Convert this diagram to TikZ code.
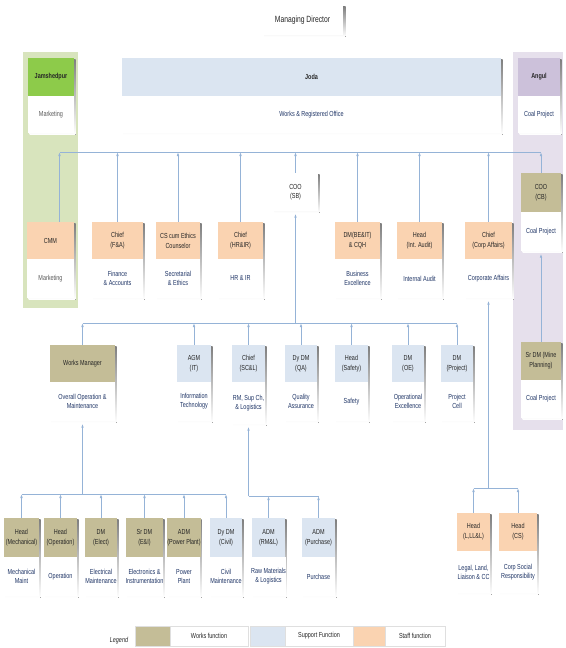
\documentclass[tikz,border=0pt]{standalone}
\usepackage{fontspec}
\setmainfont{Liberation Sans}[FakeStretch=0.75]
\usetikzlibrary{arrows.meta}
\definecolor{works}{HTML}{C4BD97}
\definecolor{support}{HTML}{DBE5F1}
\definecolor{staff}{HTML}{FAD3B1}
\definecolor{jgreen}{HTML}{8DCB4A}
\definecolor{jpanel}{HTML}{D8E4BD}
\definecolor{apanel}{HTML}{E6E0EC}
\definecolor{ahead}{HTML}{CCC1DA}
\definecolor{lnc}{HTML}{95B3D7}
\definecolor{bodytxt}{HTML}{1F3566}
\definecolor{hdrtxt}{HTML}{262626}
\definecolor{greytxt}{HTML}{595959}
\definecolor{shade}{HTML}{CFCFCF}
\tikzset{
  hdr/.style={inner sep=0pt, align=center, font=\fontsize{7.3}{10}\selectfont, text=hdrtxt},
  bdy/.style={fill=white, inner sep=0pt, align=center, font=\fontsize{7.3}{9}\selectfont, text=bodytxt},
  ln/.style={draw=lnc, line width=0.8pt},
  arr/.style={ln, -{Latex[length=4pt,width=2.6pt]}},
  uparr/.style={arr, shorten >=2.5pt},
  legbox/.style={draw=gray!25, inner sep=0pt, minimum height=20pt, font=\fontsize{7.3}{8}\selectfont, text=hdrtxt},
}
% name, x1, x2, y1, ymid, y2, colour, header, body
\newcommand\orgbox[9]{%
  \fill[shade] ({#2+1.5},{#4+1.5}) rectangle ({#3+1.5},{#6+1.5});
  \node[hdr, fill=#7, minimum width={(#3-#2)*1pt}, minimum height={(#5-#4)*1pt}] (#1) at ({(#2+#3)/2},{(#4+#5)/2}) {#8};
  \node[bdy, minimum width={(#3-#2)*1pt}, minimum height={(#6-#5)*1pt}] (#1b) at ({(#2+#3)/2},{(#5+#6)/2}) {#9};
}
\begin{document}
\begin{tikzpicture}[x=1pt,y=-1pt]
\useasboundingbox (0,0) rectangle (565,648);
\fill[white] (0,0) rectangle (565,648);
% side panels
\fill[jpanel] (23,52) rectangle (78,308);
\fill[apanel] (513,52) rectangle (563,430);
% managing director
\fill[shade] (264,6.5) rectangle (345.5,36.5);
\node[bdy, text=hdrtxt, font=\fontsize{9}{10}\selectfont, minimum width=81pt, minimum height=30pt] (md) at (302.5,20) {Managing Director};
% locations
\orgbox{jam}{28}{74}{58}{96}{133}{jgreen}{\bfseries Jamshedpur}{\color{greytxt}Marketing}
\orgbox{joda}{122}{501}{58}{96}{133}{support}{\bfseries Joda}{Works \& Registered Office}
\orgbox{ang}{518}{560}{58}{96}{133}{ahead}{\bfseries Angul}{Coal Project}
% first level
\orgbox{cmm}{27}{74}{222}{259}{298}{staff}{CMM}{\color{greytxt}Marketing}
\orgbox{fa}{92}{143}{222}{259}{298}{staff}{Chief\\(F\&A)}{Finance\\\& Accounts}
\orgbox{cs}{156}{200}{222}{259}{298}{staff}{CS cum Ethics\\Counselor}{Secretarial\\\& Ethics}
\orgbox{hr}{218}{263}{222}{259}{298}{staff}{Chief\\(HR\&IR)}{HR \& IR}
\orgbox{be}{335}{380}{222}{259}{298}{staff}{DM(BE\&IT)\\\& CQH}{Business\\Excellence}
\orgbox{ia}{397}{442}{222}{259}{298}{staff}{Head\\(Int. Audit)}{Internal Audit}
\orgbox{ca}{465}{512}{222}{259}{298}{staff}{Chief\\(Corp Affairs)}{Corporate Affairs}
\fill[shade] (274.5,174.5) rectangle (319.5,212.5);
\node[bdy, text=hdrtxt, minimum width=45pt, minimum height=38pt] (coo) at (295.5,192) {COO\\(SB)};
\orgbox{coocb}{521}{561}{173}{212}{251}{works}{COO\\(CB)}{Coal Project}
\orgbox{srdm}{521}{561}{342}{380}{418}{works}{Sr DM (Mine\\Planning)}{Coal Project}
% second level
\orgbox{wm}{50}{115}{345}{382}{421}{works}{Works Manager}{Overall Operation \&\\Maintenance}
\orgbox{agm}{177}{211}{345}{382}{421}{support}{AGM\\(IT)}{Information\\Technology}
\orgbox{scl}{232}{265}{345}{382}{424}{support}{Chief\\(SC\&L)}{RM, Sup Ch,\\\& Logistics}
\orgbox{qa}{285}{317}{345}{382}{421}{support}{Dy DM\\(QA)}{Quality\\Assurance}
\orgbox{saf}{335}{368}{345}{382}{421}{support}{Head\\(Safety)}{Safety}
\orgbox{oe}{392}{424}{345}{382}{421}{support}{DM\\(OE)}{Operational\\Excellence}
\orgbox{prj}{441}{473}{345}{382}{421}{support}{DM\\(Project)}{Project\\Cell}
% third level
\orgbox{mech}{4}{39}{518}{557}{596}{works}{Head\\(Mechanical)}{Mechanical\\Maint}
\orgbox{oper}{44}{77}{518}{557}{596}{works}{Head\\(Operation)}{Operation}
\orgbox{elec}{85}{117}{518}{557}{596}{works}{DM\\(Elect)}{Electrical\\Maintenance}
\orgbox{ei}{126}{163}{518}{557}{596}{works}{Sr DM\\(E\&I)}{Electronics \&\\Instrumentation}
\orgbox{pp}{168}{200}{518}{557}{596}{works}{ADM\\(Power Plant)}{Power\\Plant}
\orgbox{civ}{210}{242}{518}{557}{596}{support}{Dy DM\\(Civil)}{Civil\\Maintenance}
\orgbox{rml}{252}{285}{518}{557}{596}{support}{ADM\\(RM\&L)}{Raw Materials\\\& Logistics}
\orgbox{pur}{302}{335}{518}{557}{596}{support}{ADM\\(Purchase)}{Purchase}
\orgbox{lll}{457}{490}{513}{551}{593}{staff}{Head\\(L,LL\&L)}{Legal, Land,\\Liaison \& CC}
\orgbox{csr}{499}{537}{513}{551}{593}{staff}{Head\\(CS)}{Corp Social\\Responsibility}
% bus 1
\coordinate (b1) at (0,152);
\coordinate (cmmtop) at ([xshift=9pt]cmm.north);
\draw[ln] (cmmtop |- b1) -- (coocb.north |- b1);
\draw[arr] (cmmtop) -- (cmmtop |- b1);
\foreach \n in {fa,cs,hr,coo,be,ia,ca,coocb} \draw[arr] (\n.north) -- (\n.north |- b1);
% bus 2
\coordinate (b2) at (0,323);
\draw[ln] (wm.north |- b2) -- (prj.north |- b2);
\draw[uparr] (coo.south |- b2) -- (coo.south);
\foreach \n in {wm,agm,scl,qa,saf,oe,prj} \draw[arr] (\n.north) -- (\n.north |- b2);
% bus 3
\coordinate (b3) at (0,494);
\draw[ln] (mech.north |- b3) -- (civ.north |- b3);
\draw[uparr] (wmb.south |- b3) -- (wmb.south);
\foreach \n in {mech,oper,elec,ei,pp,civ} \draw[arr] (\n.north) -- (\n.north |- b3);
% bus 4
\coordinate (b4) at (0,496);
\draw[ln] (sclb.south |- b4) -- (pur.north |- b4);
\draw[uparr] (sclb.south |- b4) -- (sclb.south);
\foreach \n in {rml,pur} \draw[arr] (\n.north) -- (\n.north |- b4);
% bus 5
\coordinate (b5) at (0,488);
\draw[uparr] (cab.south |- b5) -- (cab.south);
\draw[ln] (lll.north |- b5) -- (csr.north |- b5);
\foreach \n in {lll,csr} \draw[arr] (\n.north) -- (\n.north |- b5);
% Angul
\draw[uparr] (srdm.north) -- (coocbb.south);
% legend
\node[font=\itshape\fontsize{7.3}{8}\selectfont, text=hdrtxt] (leg) at (119,641) {Legend};
\node[legbox, fill=works, minimum width=35pt] (lw) at (152.5,636) {};
\node[legbox, fill=white, minimum width=78pt] (lwt) at (209,636) {Works function};
\node[legbox, fill=support, minimum width=35pt] (ls) at (267.5,636) {};
\node[legbox, fill=white, minimum width=68pt] (lst) at (319,636) {Support Function};
\node[legbox, fill=staff, minimum width=32pt] (lf) at (369,636) {};
\node[legbox, fill=white, minimum width=60pt] (lft) at (415,636) {Staff function};
\end{tikzpicture}
\end{document}
